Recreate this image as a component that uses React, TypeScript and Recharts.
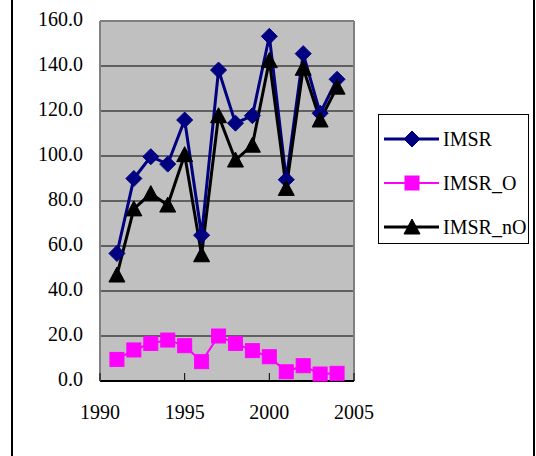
import React from 'react';
import { LineChart, Line, XAxis, YAxis, CartesianGrid, ReferenceLine } from 'recharts';

// values
const years = [1991, 1992, 1993, 1994, 1995, 1996, 1997, 1998, 1999, 2000, 2001, 2002, 2003, 2004];
const imsr = [56.7, 90.0, 99.7, 96.4, 116.0, 64.8, 138.2, 114.6, 117.9, 153.2, 89.5, 145.5, 119.0, 134.1];
const imsrO = [9.6, 13.8, 16.7, 18.2, 15.7, 8.6, 20.0, 16.7, 13.5, 10.8, 4.1, 6.8, 3.1, 3.4];
const imsrNO = [47.1, 76.5, 83.3, 78.2, 100.6, 56.1, 117.9, 98.2, 104.8, 142.4, 85.6, 139.0, 116.0, 130.6];
const xTicks = [1990, 1995, 2000, 2005];
const yTicks = [0, 20, 40, 60, 80, 100, 120, 140, 160];

const data = years.map((year, i) => ({
  year,
  IMSR: imsr[i],
  IMSR_O: imsrO[i],
  IMSR_nO: imsrNO[i],
}));

const FONT = 'Liberation Serif';
const NAVY = '#000080';
const MAGENTA = '#FF00FF';

const Diamond = ({ cx, cy }: any) => (
  <path d={`M${cx},${cy - 8}L${cx + 8},${cy}L${cx},${cy + 8}L${cx - 8},${cy}Z`} fill={NAVY} stroke={NAVY} />
);
const Square = ({ cx, cy }: any) => (
  <rect x={cx - 7} y={cy - 7} width={14} height={14} fill={MAGENTA} stroke={MAGENTA} />
);
const Triangle = ({ cx, cy }: any) => (
  <path d={`M${cx},${cy - 8}L${cx + 8},${cy + 7}L${cx - 8},${cy + 7}Z`} fill="#000" stroke="#000" />
);

const XTick = ({ x, y, payload }: any) => (
  <g>
    <line x1={x} y1={y} x2={x} y2={y - 8} stroke="#000" strokeWidth={1} />
    <text x={x} y={y + 33} textAnchor="middle" dominantBaseline="middle" fontFamily={FONT} fontSize={20} fill="#000">
      {payload.value}
    </text>
  </g>
);

const YTick = ({ x, y, payload }: any) => (
  <text x={x} y={y} textAnchor="end" dominantBaseline="middle" fontFamily={FONT} fontSize={20} fill="#000">
    {payload.value.toFixed(1)}
  </text>
);

const legendItems = [
  { name: 'IMSR', color: NAVY, Marker: Diamond, width: 3 },
  { name: 'IMSR_O', color: MAGENTA, Marker: Square, width: 2 },
  { name: 'IMSR_nO', color: '#000', Marker: Triangle, width: 3 },
];

const App = () => {
  return (
    <div style={{ position: 'absolute', left: 0, top: 0, width: 536, height: 456, background: '#fff', fontFamily: FONT }}>
      <div
        style={{
          position: 'absolute',
          left: 11,
          top: 0,
          width: 524,
          height: 456,
          boxSizing: 'border-box',
          borderLeft: '2px solid #000',
          borderRight: '2px solid #000',
        }}
      />
      <LineChart
        width={536}
        height={456}
        data={data}
        margin={{ top: 21, right: 182, left: 12, bottom: 30 }}
        style={{ position: 'absolute', left: 0, top: 0 }}
      >
        <CartesianGrid vertical={false} stroke="#000" fill="#C0C0C0" fillOpacity={1} />
        <XAxis
          dataKey="year"
          type="number"
          domain={[1990, 2005]}
          ticks={xTicks}
          height={45}
          axisLine={{ stroke: '#000', strokeWidth: 2 }}
          tickLine={false}
          tickSize={0}
          tickMargin={0}
          tick={<XTick />}
        />
        <YAxis
          domain={[0, 160]}
          ticks={yTicks}
          width={88}
          axisLine={{ stroke: '#808080', strokeWidth: 2 }}
          tickLine={false}
          tickSize={0}
          tickMargin={17}
          tick={<YTick />}
        />
        <ReferenceLine y={160} stroke="#808080" strokeWidth={2} />
        <ReferenceLine x={2005} stroke="#808080" strokeWidth={2} />
        <Line
          dataKey="IMSR"
          type="linear"
          stroke={NAVY}
          strokeWidth={3}
          dot={(p: any) => <Diamond key={`d${p.index}`} cx={p.cx} cy={p.cy} />}
          isAnimationActive={false}
        />
        <Line
          dataKey="IMSR_O"
          type="linear"
          stroke={MAGENTA}
          strokeWidth={2}
          dot={(p: any) => <Square key={`s${p.index}`} cx={p.cx} cy={p.cy} />}
          isAnimationActive={false}
        />
        <Line
          dataKey="IMSR_nO"
          type="linear"
          stroke="#000"
          strokeWidth={3}
          dot={(p: any) => <Triangle key={`t${p.index}`} cx={p.cx} cy={p.cy} />}
          isAnimationActive={false}
        />
      </LineChart>
      <div
        style={{
          position: 'absolute',
          left: 378,
          top: 114,
          width: 151,
          height: 130,
          boxSizing: 'border-box',
          border: '1px solid #000',
          background: '#fff',
        }}
      >
        {legendItems.map((item, i) => (
          <div
            key={item.name}
            style={{ position: 'absolute', left: 4, top: 10 + i * 44, height: 28, display: 'flex', alignItems: 'center' }}
          >
            <svg width={58} height={28}>
              <line x1={1} y1={14} x2={56} y2={14} stroke={item.color} strokeWidth={item.width} />
              <item.Marker cx={29} cy={14} />
            </svg>
            <span style={{ fontFamily: FONT, fontSize: 20, color: '#000', marginLeft: 2, whiteSpace: 'nowrap' }}>
              {item.name}
            </span>
          </div>
        ))}
      </div>
    </div>
  );
};

export default App;
